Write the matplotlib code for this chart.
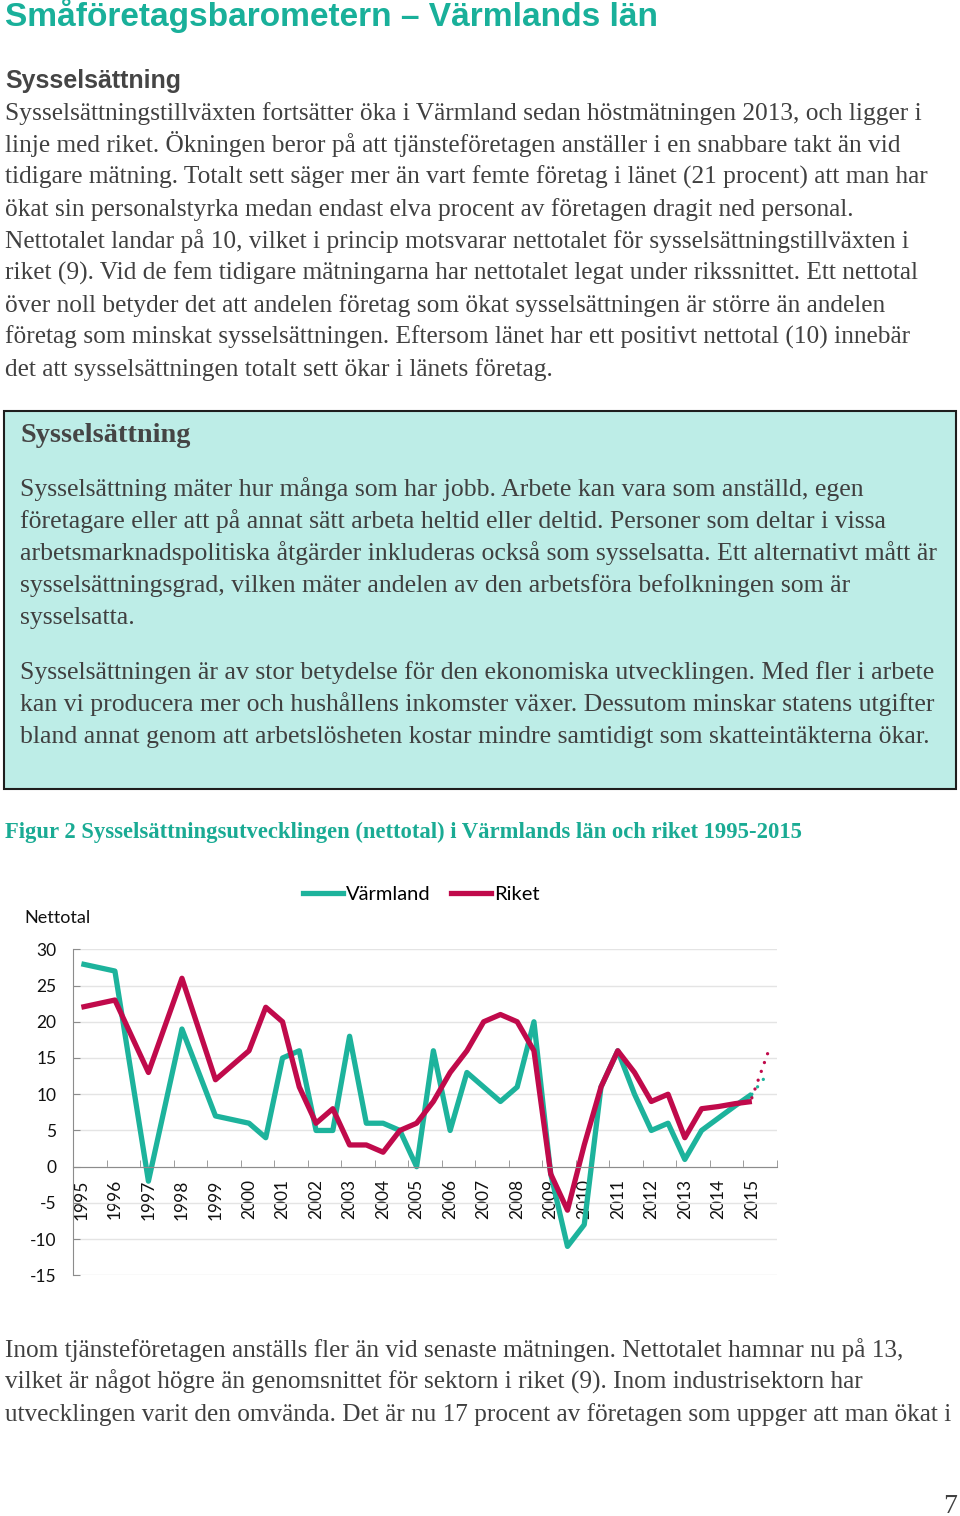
import matplotlib
matplotlib.use('Agg')
import matplotlib.pyplot as plt
from matplotlib.patches import Rectangle
from matplotlib.lines import Line2D

plt.rcParams['axes.unicode_minus'] = False

W, H = 960, 1516

# --- data (nettotal) ---
ar = ['1995', '1996', '1997', '1998', '1999', '2000', '2001', '2002', '2003', '2004', '2005',
      '2006', '2007', '2008', '2009', '2010', '2011', '2012', '2013', '2014', '2015']
perioder = ['1995', '1996', '1997', '1998', '1999',
            '2000:1', '2000:2', '2001:1', '2001:2', '2002:1', '2002:2', '2003:1', '2003:2',
            '2004:1', '2004:2', '2005:1', '2005:2', '2006:1', '2006:2', '2007:1', '2007:2',
            '2008:1', '2008:2', '2009:1', '2009:2', '2010:1', '2010:2', '2011:1', '2011:2',
            '2012:1', '2012:2', '2013:1', '2013:2', '2014:1', '2014:2', '2015:1']
varmland = [28, 27, -2, 19, 7,
            6, 4, 15, 16, 5, 5, 18, 6,
            6, 5, 0, 16, 5, 13, 11, 9,
            11, 20, -1, -11, -8, 11, 16, 10,
            5, 6, 1, 5, 6.7, 8.4, 10]
riket = [22, 23, 13, 26, 12,
         16, 22, 20, 11, 6, 8, 3, 3,
         2, 5, 6, 9, 13, 16, 20, 21,
         20, 16, -1, -6, 3, 11, 16, 13,
         9, 10, 4, 8, 8.3, 8.7, 9]
prognos_perioder = ['2015:1', '2015:2']
varmland_prognos = [10, 13]
riket_prognos = [9.5, 16]

TEAL = '#1db39c'
RED = '#c00a4b'
TXT = '#404040'
GRID = '#e4e4e4'
AXC = '#8c8c8c'


def pos(p):
    # halvårsmätningar -> kategori, två kategorier per år
    y = int(p[:4])
    half = 1 if p.endswith(':2') else 0
    return 2 * (y - 1995) + half + 0.5


fig = plt.figure(figsize=(W / 100, H / 100), dpi=100)
r = fig.canvas.get_renderer()


def fy(py):
    return 1 - py / H


def fit(txt, target, **kw):
    t = fig.text(0, 0, txt, fontsize=20, **kw)
    w = t.get_window_extent(renderer=r).width
    t.remove()
    return 20 * target / w


SERIF = 'Liberation Serif'
SANS = 'Liberation Sans'

# --- page text ---
fs = fit('Småföretagsbarometern – Värmlands län', 653, family=SANS, weight='bold')
fig.text(5 / W, fy(26), 'Småföretagsbarometern – Värmlands län', fontsize=fs,
         family=SANS, weight='bold', color='#19b09a', va='baseline')
fs = fit('Sysselsättning', 176, family=SANS, weight='bold')
fig.text(5 / W, fy(88), 'Sysselsättning', fontsize=fs, family=SANS, weight='bold',
         color='#454545', va='baseline')

intro = ['Sysselsättningstillväxten fortsätter öka i Värmland sedan höstmätningen 2013, och ligger i',
         'linje med riket. Ökningen beror på att tjänsteföretagen anställer i en snabbare takt än vid',
         'tidigare mätning. Totalt sett säger mer än vart femte företag i länet (21 procent) att man har',
         'ökat sin personalstyrka medan endast elva procent av företagen dragit ned personal.',
         'Nettotalet landar på 10, vilket i princip motsvarar nettotalet för sysselsättningstillväxten i',
         'riket (9). Vid de fem tidigare mätningarna har nettotalet legat under rikssnittet. Ett nettotal',
         'över noll betyder det att andelen företag som ökat sysselsättningen är större än andelen',
         'företag som minskat sysselsättningen. Eftersom länet har ett positivt nettotal (10) innebär',
         'det att sysselsättningen totalt sett ökar i länets företag.']
fs = fit(intro[0], 917, family=SERIF)
for i, s in enumerate(intro):
    fig.text(5 / W, fy(120 + 32 * i), s, fontsize=fs, family=SERIF, color=TXT, va='baseline')

# faktarutan
fig.patches.append(Rectangle((4 / W, fy(789)), 952 / W, 378 / H, transform=fig.transFigure,
                             facecolor='#bdede7', edgecolor='#1e1e1e', lw=1.5))
fs = fit('Sysselsättning', 170, family=SERIF, weight='bold')
fig.text(20 / W, fy(442), 'Sysselsättning', fontsize=fs, family=SERIF, weight='bold',
         color='#454545', va='baseline')
box = ['Sysselsättning mäter hur många som har jobb. Arbete kan vara som anställd, egen',
       'företagare eller att på annat sätt arbeta heltid eller deltid. Personer som deltar i vissa',
       'arbetsmarknadspolitiska åtgärder inkluderas också som sysselsatta. Ett alternativt mått är',
       'sysselsättningsgrad, vilken mäter andelen av den arbetsföra befolkningen som är',
       'sysselsatta.',
       'Sysselsättningen är av stor betydelse för den ekonomiska utvecklingen. Med fler i arbete',
       'kan vi producera mer och hushållens inkomster växer. Dessutom minskar statens utgifter',
       'bland annat genom att arbetslösheten kostar mindre samtidigt som skatteintäkterna ökar.']
box_y = [496, 528, 560, 592, 624, 679, 711, 743]
fs = fit(box[2], 917, family=SERIF)
for s, y in zip(box, box_y):
    fig.text(20 / W, fy(y), s, fontsize=fs, family=SERIF, color=TXT, va='baseline')

cap = 'Figur 2 Sysselsättningsutvecklingen (nettotal) i Värmlands län och riket 1995-2015'
fs = fit(cap, 798, family=SERIF, weight='bold')
fig.text(5 / W, fy(838), cap, fontsize=fs, family=SERIF, weight='bold', color='#1aab94',
         va='baseline')

outro = ['Inom tjänsteföretagen anställs fler än vid senaste mätningen. Nettotalet hamnar nu på 13,',
         'vilket är något högre än genomsnittet för sektorn i riket (9). Inom industrisektorn har',
         'utvecklingen varit den omvända. Det är nu 17 procent av företagen som uppger att man ökat i']
fs = fit(outro[2], 947, family=SERIF)
for i, s in enumerate(outro):
    fig.text(5 / W, fy(1357 + 32 * i), s, fontsize=fs, family=SERIF, color=TXT, va='baseline')
fig.text(957 / W, fy(1513), '7', fontsize=20, family=SERIF, color=TXT, ha='right', va='baseline')

# --- chart ---
CF = 'Lato'
ax = fig.add_axes([73 / W, fy(1275.4), 704 / W, (1275.4 - 949.3) / H])
ax.set_xlim(0, 42)
ax.set_ylim(-15, 30)

x = [pos(p) for p in perioder]
xp = [pos(p) for p in prognos_perioder]
ax.plot(x, varmland, color=TEAL, lw=3.8, solid_capstyle='butt')
ax.plot(x, riket, color=RED, lw=3.8, solid_capstyle='butt')
ax.plot(xp, varmland_prognos, color=TEAL, lw=2.4, dash_capstyle='round', linestyle=(0, (0.01, 2.8)))
ax.plot(xp, riket_prognos, color=RED, lw=2.4, dash_capstyle='round', linestyle=(0, (0.01, 2.8)))

for s in ['top', 'right']:
    ax.spines[s].set_visible(False)
ax.spines['left'].set_color(AXC)
ax.spines['bottom'].set_color(AXC)
ax.spines['bottom'].set_position(('data', 0))

ax.set_yticks(range(-15, 31, 5))
ax.yaxis.grid(True, color=GRID, lw=1)
ax.set_axisbelow(True)
ax.tick_params(axis='y', direction='in', length=5, color=AXC, labelsize=12.5,
               pad=12, labelcolor='#111111')
for t in ax.get_yticklabels():
    t.set_family(CF)

ax.set_xticks([pos(a) for a in ar])
ax.set_xticklabels(ar, rotation=90, family=CF, fontsize=12.5, color='#111111')
ax.set_xticks(range(0, 43, 2), minor=True)
ax.tick_params(axis='x', which='major', length=0, pad=9)
ax.tick_params(axis='x', which='minor', direction='in', length=5, color=AXC)

fig.text(24 / W, fy(923), 'Nettotal', family=CF, fontsize=13, color='#111111', va='baseline')

handles = [Line2D([], [], color=TEAL, lw=3.8), Line2D([], [], color=RED, lw=3.8)]
fig.legend(handles, ['Värmland', 'Riket'], loc='center left', bbox_to_anchor=(303 / W, fy(894)),
           ncol=2, frameon=False, prop={'family': CF, 'size': 14.5}, handlelength=2.0,
           handletextpad=0.15, columnspacing=1.0, borderpad=0, borderaxespad=0)

fig.savefig('out.png', dpi=100)
